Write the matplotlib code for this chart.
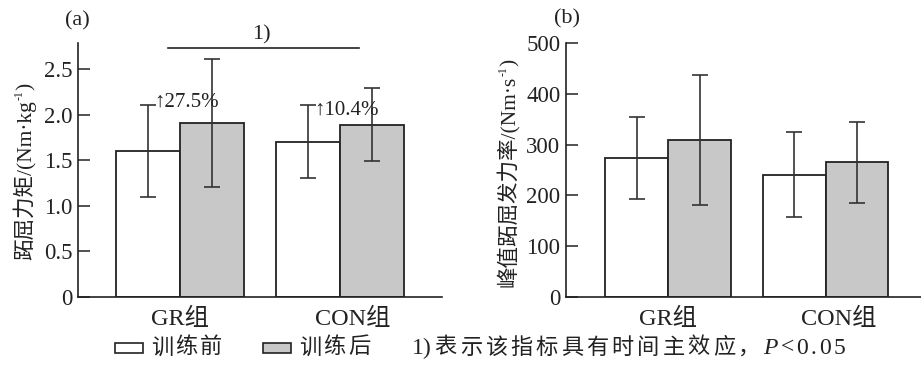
import matplotlib
matplotlib.use("Agg")
import matplotlib.pyplot as plt
import numpy as np
from matplotlib.patches import Rectangle
from matplotlib.transforms import ScaledTranslation
from matplotlib.offsetbox import TextArea, HPacker, DrawingArea, AnchoredOffsetbox

# data
groups = ["GR组", "CON组"]
torque_pre = [1.60, 1.70]
torque_pre_sd = [0.50, 0.40]
torque_post = [1.91, 1.89]
torque_post_sd = [0.70, 0.40]
torque_gain = ["↑27.5%", "↑10.4%"]
torque_gain_y = [2.14, 2.05]

rfd_pre = [273, 241]
rfd_pre_sd = [81, 83]
rfd_post = [309, 265]
rfd_post_sd = [128, 79]

series_names = ["训练前", "训练后"]
note_text = "表示该指标具有时间主效应，"

SERIF = ["Liberation Serif", "Noto Sans CJK SC", "DejaVu Serif"]
INK = "#222222"
GREY = "#c8c8c8"
series_colors = ["white", GREY]

plt.rcParams["font.family"] = SERIF

W, H = 921, 367
fig = plt.figure(figsize=(W / 100, H / 100), dpi=100)

ax1 = fig.add_axes([78 / W, 70 / H, (442 - 78) / W, 254 / H])
ax2 = fig.add_axes([566 / W, 70 / H, (W - 566) / W, 254 / H])

x = np.arange(len(groups))
width = 0.4
err_kw = dict(ecolor="#333333", elinewidth=1.2, capsize=6, capthick=1.2)


def draw_bars(ax, pre, pre_sd, post, post_sd):
    ax.bar(x - width / 2, pre, width, yerr=pre_sd, color=series_colors[0],
           edgecolor=INK, linewidth=1.3, error_kw=err_kw)
    ax.bar(x + width / 2, post, width, yerr=post_sd, color=series_colors[1],
           edgecolor=INK, linewidth=1.3, error_kw=err_kw)
    for side in ("top", "right"):
        ax.spines[side].set_visible(False)
    for side in ("left", "bottom"):
        ax.spines[side].set_linewidth(1.2)
        ax.spines[side].set_color(INK)
    ax.tick_params(axis="y", direction="in", length=8.5, width=1.1,
                   color=INK, labelcolor=INK, labelsize=16.5, pad=4)
    ax.tick_params(axis="x", length=0, labelcolor=INK, labelsize=17.5, pad=8)
    ax.set_xticks(x, groups)
    # the CON label sits a little right of its bars in the original
    lab = ax.get_xticklabels()[1]
    lab.set_transform(lab.get_transform() + ScaledTranslation(0.13, 0, fig.dpi_scale_trans))


draw_bars(ax1, torque_pre, torque_pre_sd, torque_post, torque_post_sd)
ax1.set_xlim(-0.6375, 1.6375)
ax1.set_ylim(0, 2.785)
ax1.set_yticks([0, 0.5, 1.0, 1.5, 2.0, 2.5], ["0", "0.5", "1.0", "1.5", "2.0", "2.5"])

# percent change labels
for i in range(len(groups)):
    ax1.text(x[i] - width / 2 + 0.04, torque_gain_y[i], torque_gain[i],
             ha="left", va="center", fontsize=15, color=INK)

# main effect of time
ax1.plot([-0.075, 1.12], [2.727, 2.727], color=INK, lw=1.2, clip_on=False)
ax1.text(0.51, 2.87, "1)", ha="center", va="center", fontsize=16,
         color=INK, clip_on=False)

draw_bars(ax2, rfd_pre, rfd_pre_sd, rfd_post, rfd_post_sd)
ax2.set_xlim(-0.65, 1.607)
ax2.set_ylim(0, 500)
ax2.set_yticks([0, 100, 200, 300, 400, 500])

# panel letters
fig.text(77 / W, 1 - 21 / H, "(a)", ha="center", va="center", fontsize=16, color=INK)
fig.text(567 / W, 1 - 19 / H, "(b)", ha="center", va="center", fontsize=16, color=INK)

renderer = fig.canvas.get_renderer()


def vertical_label(xb, yb, pieces):
    # stack rotated text pieces bottom-to-top along one baseline (pixels)
    y = yb
    for text, size, shift in pieces:
        t = fig.text((xb - shift) / W, y / H, text, rotation=90,
                     rotation_mode="anchor", ha="left", va="baseline",
                     fontsize=size, color=INK)
        y = t.get_window_extent(renderer).y1


vertical_label(31, H - 260, [("跖屈力矩/(Nm·kg", 15.5, 0), ("-1", 8.5, 8), (")", 15.5, 0)])
vertical_label(515, H - 287, [("峰值跖屈发力率/(Nm·s", 15.5, 0), ("-1", 8.5, 8), (")", 15.5, 0)])


# legend row, built by hand to get the wide letter spacing of the original
def spaced(text, size, sep, **kw):
    return HPacker(children=[TextArea(c, textprops=dict(fontsize=size, color=INK, **kw))
                             for c in text], pad=0, sep=sep, align="baseline")


def place(child, x_px):
    fig.add_artist(AnchoredOffsetbox(loc="center left", child=child, pad=0,
                                     frameon=False, borderpad=0,
                                     bbox_to_anchor=(x_px / W, 1 - 348 / H),
                                     bbox_transform=fig.transFigure))


for name, color, x_px in zip(series_names, series_colors, [115, 263]):
    swatch = DrawingArea(20, 6.5)
    swatch.add_artist(Rectangle((0, 0), 20, 6.5, facecolor=color,
                                edgecolor=INK, linewidth=1.2))
    place(HPacker(children=[swatch, spaced(name, 16, 1.6)], pad=0, sep=6,
                  align="center"), x_px)

note = HPacker(children=[
    TextArea("1)", textprops=dict(fontsize=17, color=INK)),
    spaced(note_text, 16, 2.2),
    TextArea("P", textprops=dict(fontsize=17, color=INK, style="italic")),
    TextArea("<", textprops=dict(fontsize=17, color=INK)),
    spaced("0.05", 17, 2.0),
], pad=0, sep=2.0, align="baseline")
place(note, 412)

fig.savefig("out.png", dpi=100)
